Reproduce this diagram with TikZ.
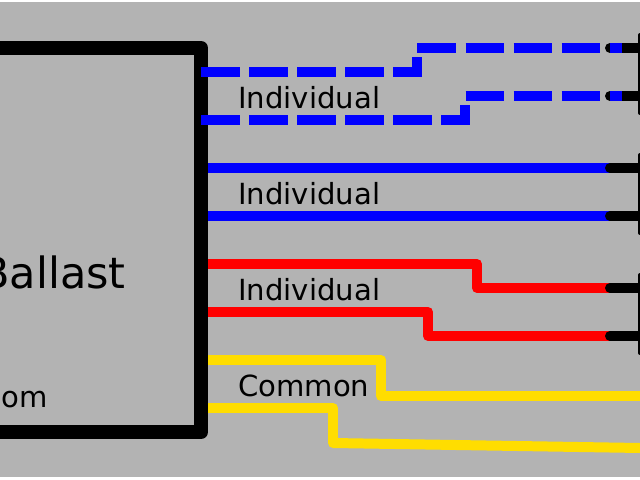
\documentclass[tikz,border=0pt]{standalone}
\usepackage{fontspec}
\setmainfont{DejaVu Sans}
\definecolor{panelgray}{HTML}{B3B3B3}
\definecolor{wireyellow}{HTML}{FFDD00}
\tikzset{
	wire/.style={line width=7.1pt, line join=round},
	dashwire/.style={wire, line join=miter, dash pattern=on 27.4pt off 6.8pt},
	stub/.style={line width=7.1pt, line cap=round, black},
	bar/.style={line width=2.8pt, line cap=round, black},
	wirelabel/.style={anchor=base west, inner sep=0pt, font=\fontsize{20.7}{24}\selectfont},
}
\begin{document}
\begin{tikzpicture}[x=0.025cm, y=-0.025cm]
	% Page, with the thin white strips top and bottom
	\useasboundingbox (0,0) rectangle (640,480);
	\clip (0,0) rectangle (640,480);
	\fill[panelgray] (0,2.5) rectangle (640,477);
	% Ballast box, runs off the left edge
	\draw[line width=10pt, line join=round] (-20,48) -- (201,48) -- (201,432) -- (-20,432);
	\node[anchor=base east, inner sep=0pt, font=\fontsize{30.6}{36}\selectfont] (ballast) at (126,288) {Ballast};
	\node[anchor=base east, inner sep=0pt, font=\fontsize{20.7}{24}\selectfont] (web) at (48,407) {com};
	% Wire ends on the box
	\foreach \name/\y in {a/72,b/120,c/168,d/216,e/264,f/312,g/360,h/408}{
		\coordinate (out\name) at (201,\y);
	}
	% Lamp ends
	\foreach \name/\y in {a/48,b/96,c/168,d/216,e/288,f/336}{
		\coordinate (lamp\name) at (640,\y);
	}
	% Lamp holders
	\foreach \top/\bot in {35/113,155/233,275/353}{
		\draw[bar] (640,\top) -- (640,\bot);
	}
	% Stubs under the dashed wires
	\foreach \name in {a,b}{
		\draw[stub] (lamp\name) ++(-30,0) -- (lamp\name);
	}
	% Dashed blue
	\draw[wire, dashwire, blue] (outa) -- (417,72) -- (417,48) -- (622,48);
	\draw[wire, dashwire, blue] (outb) -- (465,120) -- (465,96) -- (622,96);
	% Solid blue
	\draw[wire, blue] (outc) -- (lampc);
	\draw[wire, blue] (outd) -- (lampd);
	% Red
	\draw[wire, red] (oute) -- (477,264) -- (477,288) -- (lampe);
	\draw[wire, red] (outf) -- (428,312) -- (428,336) -- (lampf);
	% Stubs over the solid wires
	\foreach \name in {c,d,e,f}{
		\draw[stub] (lamp\name) ++(-30,0) -- (lamp\name);
	}
	% Yellow
	\draw[wire, wireyellow] (outg) -- (381,360) -- (381,396) -- (640,396);
	\draw[wire, wireyellow] (outh) -- (333,408) -- (333,443) -- (640,448);
	% Box edge again, over the wire starts
	\draw[line width=10pt] (201,150) -- (201,420);
	% Labels
	\node[wirelabel] (ind1) at (238,108) {Individual};
	\node[wirelabel] (ind2) at (238,204) {Individual};
	\node[wirelabel] (ind3) at (238,300) {Individual};
	\node[wirelabel] (comm) at (238,396) {Common};
\end{tikzpicture}
\end{document}
